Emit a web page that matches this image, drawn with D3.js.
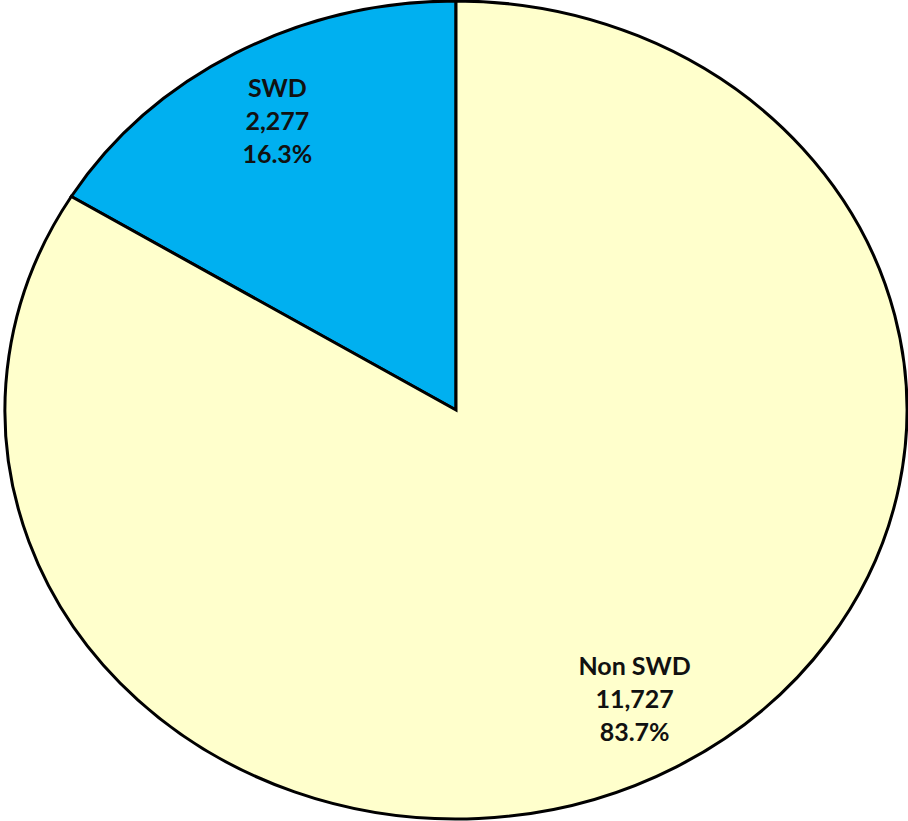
<!DOCTYPE html>
<html>
<head>
<meta charset="utf-8">
<script src="https://cdn.jsdelivr.net/npm/d3@7"></script>
<style>
  body { margin: 0; background: #fff; }
  svg text { font-family: Lato, "Open Sans", sans-serif; font-weight: bold; }
</style>
</head>
<body>
<div id="chart"></div>
<script>
// data
var categories = ["SWD", "Non SWD"];
var counts = [2277, 11727];
var percents = ["16.3%", "83.7%"];
var colours = ["#00B0F0", "#FFFFCC"];

var width = 908, height = 821;
var cx = 456, cy = 410;
var rx = 451, ry = 409;

var svg = d3.select("#chart")
    .append("svg")
    .attr("width", width)
    .attr("height", height);

var data = categories.map(function(c, i) {
    return {name: c, value: counts[i], pct: percents[i], colour: colours[i]};
});

var total = d3.sum(counts);
var startA = -2 * Math.PI * counts[0] / total;

var pie = d3.pie()
    .sort(null)
    .value(function(d) { return d.value; })
    .startAngle(startA)
    .endAngle(startA + 2 * Math.PI);

var arcs = pie(data);

// unit circle, stretched to the ellipse
var arc = d3.arc().innerRadius(0).outerRadius(1);
var labelArc = d3.arc().innerRadius(0.81).outerRadius(0.81);

var g = svg.append("g")
    .attr("transform", "translate(" + cx + "," + cy + ") scale(" + rx + "," + ry + ")");

g.selectAll("path")
    .data(arcs)
    .enter()
    .append("path")
    .attr("d", arc)
    .attr("fill", function(d) { return d.data.colour; })
    .attr("stroke", "#000")
    .attr("stroke-width", 3)
    .attr("stroke-linejoin", "miter")
    .attr("vector-effect", "non-scaling-stroke");

var lineGap = 33;
var labels = svg.selectAll("text.lbl")
    .data(arcs)
    .enter()
    .append("text")
    .attr("class", "lbl")
    .attr("text-anchor", "middle")
    .attr("font-size", 25)
    .attr("fill", "#111")
    .attr("transform", function(d) {
        var c = labelArc.centroid(d);
        return "translate(" + (cx + c[0] * rx) + "," + (cy + c[1] * ry) + ")";
    });

labels.each(function(d) {
    var t = d3.select(this);
    var lines = [d.data.name, d3.format(",")(d.data.value), d.data.pct];
    lines.forEach(function(s, i) {
        t.append("tspan")
            .attr("x", 0)
            .attr("y", (i - 1) * lineGap + 9)
            .text(s);
    });
});
</script>
</body>
</html>
